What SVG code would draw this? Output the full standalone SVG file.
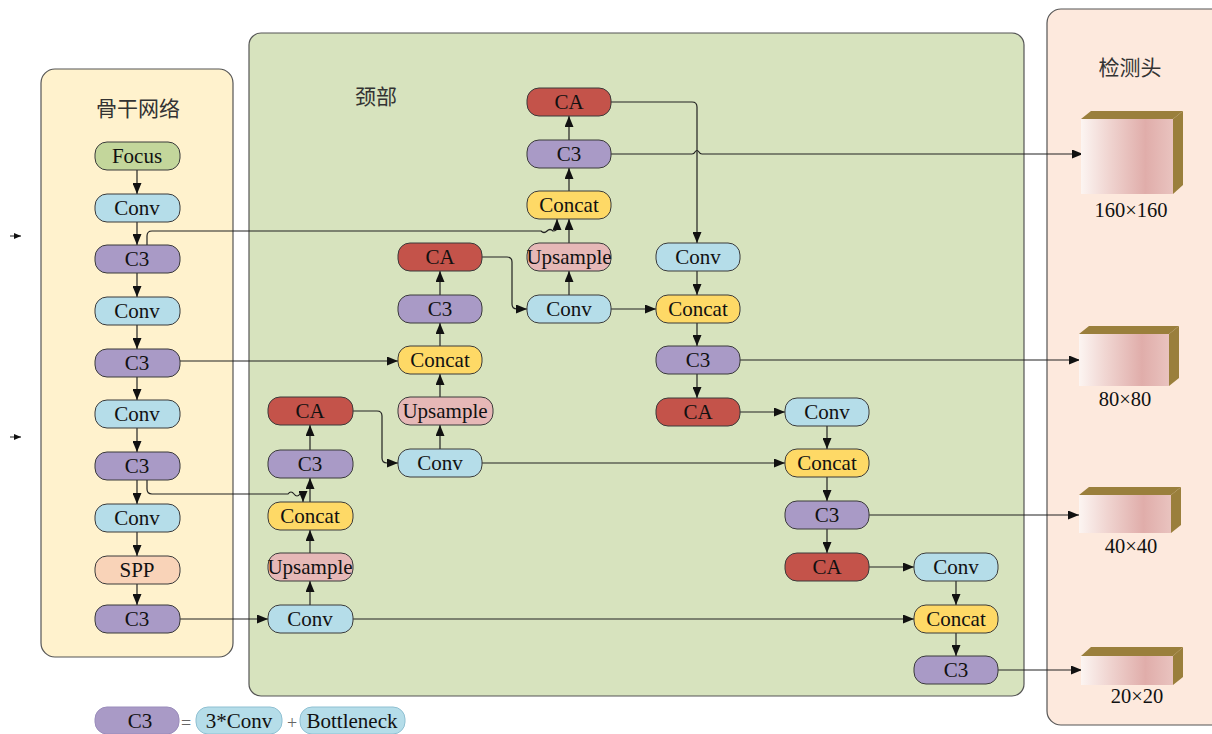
<svg xmlns="http://www.w3.org/2000/svg" width="1212" height="734" viewBox="0 0 1212 734">
<style>
.panel{stroke:#555;stroke-width:1.2}
.n{stroke:#3a3a3a;stroke-width:1}
.conv{fill:#b5dde9}.c3{fill:#a99ac6}.ca{fill:#c4534a}.cat{fill:#fed966}.up{fill:#e6b8b7}.focus{fill:#c3d69b}.spp{fill:#f9d3b8}
.t{font-family:"Liberation Serif","Times New Roman",serif;font-size:21px;fill:#111;text-anchor:middle}
.title{font-family:"Noto Sans CJK SC","Noto Sans CJK JP",sans-serif;font-size:21px;fill:#333;text-anchor:middle}
.lbl{font-family:"Liberation Serif","Times New Roman",serif;font-size:20.5px;fill:#111;text-anchor:middle}
.c{fill:none;stroke:#222;stroke-width:1.2;marker-end:url(#ah)}
.top{fill:#9a7f3c}
</style>
<defs>
<marker id="ah" markerUnits="userSpaceOnUse" markerWidth="11" markerHeight="9" refX="11" refY="4.5" orient="auto">
<path d="M0,0 L11,4.5 L0,9 z" fill="#111"/>
</marker>
<marker id="ahs" markerUnits="userSpaceOnUse" markerWidth="7" markerHeight="6" refX="7" refY="3" orient="auto">
<path d="M0,0 L7,3 L0,6 z" fill="#111"/>
</marker>
<linearGradient id="face" x1="0" y1="0" x2="1" y2="0">
<stop offset="0" stop-color="#fcf5f2"/>
<stop offset="0.3" stop-color="#f0d5d1"/>
<stop offset="0.7" stop-color="#e0adaa"/>
<stop offset="1" stop-color="#e9c3bf"/>
</linearGradient>
</defs>
<rect width="1212" height="734" fill="#ffffff"/>

<g id="panels">
<rect class="panel" x="41" y="69" width="192" height="588" rx="14" fill="#fff2cd"/>
<rect class="panel" x="249" y="33" width="775" height="663" rx="12" fill="#d7e3be"/>
<rect class="panel" x="1047" y="9" width="200" height="716" rx="14" fill="#fde9dd"/>
<text class="title" x="138" y="116">骨干网络</text>
<text class="title" x="376" y="104">颈部</text>
<text class="title" x="1130" y="75">检测头</text>
</g>

<g id="connectors">
<path d="M10,236 H21" style="fill:none;stroke:#222;stroke-width:1;marker-end:url(#ahs)"/>
<path d="M10,437 H21" style="fill:none;stroke:#222;stroke-width:1;marker-end:url(#ahs)"/>
<path class="c" d="M137,170 V194"/>
<path class="c" d="M137,222 V245"/>
<path class="c" d="M137,273 V297"/>
<path class="c" d="M137,325 V349"/>
<path class="c" d="M137,377 V400"/>
<path class="c" d="M137,428 V452"/>
<path class="c" d="M137,480 V504"/>
<path class="c" d="M137,532 V556"/>
<path class="c" d="M137,584 V605"/>
<path class="c" d="M147,245 V236 Q147,231 152,231 H541 q3,3 6,0 q3,-3 6,0 Q557,231 557,227 V219"/>
<path class="c" d="M147,480 V489 Q147,494 152,494 H288 q3,-4 6,0 q3,4 6,0 Q303,494 303,497 V502"/>
<path class="c" d="M180,361 H398"/>
<path class="c" d="M180,619 H268"/>
<path class="c" d="M310,605 V581"/>
<path class="c" d="M310,553 V530"/>
<path class="c" d="M310,502 V478"/>
<path class="c" d="M310,450 V425"/>
<path class="c" d="M353,411 H377 Q382,411 382,416 V458 Q382,463 387,463 H398"/>
<path class="c" d="M353,619 H914"/>
<path class="c" d="M440,449 V425"/>
<path class="c" d="M440,397 V374"/>
<path class="c" d="M440,346 V323"/>
<path class="c" d="M440,295 V271"/>
<path class="c" d="M482,257 H507 Q512,257 512,262 V304 Q512,309 517,309 H527"/>
<path class="c" d="M482,463 H785"/>
<path class="c" d="M569,295 V271"/>
<path class="c" d="M569,243 V219"/>
<path class="c" d="M569,191 V168"/>
<path class="c" d="M569,140 V116"/>
<path class="c" d="M611,309 H656"/>
<path class="c" d="M611,102 H692 Q697,102 697,107 V243"/>
<path class="c" d="M611,154 H692 q2,0 3,-2 q2,-3 4,0 q1,2 3,2 H1083"/>
<path class="c" d="M697,271 V295"/>
<path class="c" d="M697,323 V346"/>
<path class="c" d="M697,374 V398"/>
<path class="c" d="M740,360 H1080"/>
<path class="c" d="M740,412 H785"/>
<path class="c" d="M827,426 V449"/>
<path class="c" d="M827,477 V501"/>
<path class="c" d="M827,529 V553"/>
<path class="c" d="M869,515 H1079"/>
<path class="c" d="M869,567 H914"/>
<path class="c" d="M956,581 V605"/>
<path class="c" d="M956,633 V656"/>
<path class="c" d="M998,670 H1082"/>
</g>

<g id="bb_focus"><rect class="n focus" x="95" y="142" width="85" height="28" rx="12"/><text class="t" x="137" y="163">Focus</text></g>
<g id="bb_conv1"><rect class="n conv" x="95" y="194" width="85" height="28" rx="12"/><text class="t" x="137" y="215">Conv</text></g>
<g id="bb_c3_1"><rect class="n c3" x="95" y="245" width="85" height="28" rx="12"/><text class="t" x="137" y="266">C3</text></g>
<g id="bb_conv2"><rect class="n conv" x="95" y="297" width="85" height="28" rx="12"/><text class="t" x="137" y="318">Conv</text></g>
<g id="bb_c3_2"><rect class="n c3" x="95" y="349" width="85" height="28" rx="12"/><text class="t" x="137" y="370">C3</text></g>
<g id="bb_conv3"><rect class="n conv" x="95" y="400" width="85" height="28" rx="12"/><text class="t" x="137" y="421">Conv</text></g>
<g id="bb_c3_3"><rect class="n c3" x="95" y="452" width="85" height="28" rx="12"/><text class="t" x="137" y="473">C3</text></g>
<g id="bb_conv4"><rect class="n conv" x="95" y="504" width="85" height="28" rx="12"/><text class="t" x="137" y="525">Conv</text></g>
<g id="bb_spp"><rect class="n spp" x="95" y="556" width="85" height="28" rx="12"/><text class="t" x="137" y="577">SPP</text></g>
<g id="bb_c3_4"><rect class="n c3" x="95" y="605" width="85" height="28" rx="12"/><text class="t" x="137" y="626">C3</text></g>

<g id="n1_ca"><rect class="n ca" x="268" y="397" width="85" height="28" rx="12"/><text class="t" x="310" y="418">CA</text></g>
<g id="n1_c3"><rect class="n c3" x="268" y="450" width="85" height="28" rx="12"/><text class="t" x="310" y="471">C3</text></g>
<g id="n1_cat"><rect class="n cat" x="268" y="502" width="85" height="28" rx="12"/><text class="t" x="310" y="523">Concat</text></g>
<g id="n1_up"><rect class="n up" x="268" y="553" width="85" height="28" rx="12"/><text class="t" x="310" y="574">Upsample</text></g>
<g id="n1_conv"><rect class="n conv" x="268" y="605" width="85" height="28" rx="12"/><text class="t" x="310" y="626">Conv</text></g>

<g id="n2_ca"><rect class="n ca" x="398" y="243" width="84" height="28" rx="12"/><text class="t" x="440" y="264">CA</text></g>
<g id="n2_c3"><rect class="n c3" x="398" y="295" width="84" height="28" rx="12"/><text class="t" x="440" y="316">C3</text></g>
<g id="n2_cat"><rect class="n cat" x="398" y="346" width="84" height="28" rx="12"/><text class="t" x="440" y="367">Concat</text></g>
<g id="n2_up"><rect class="n up" x="398" y="397" width="95" height="28" rx="12"/><text class="t" x="445" y="418">Upsample</text></g>
<g id="n2_conv"><rect class="n conv" x="398" y="449" width="84" height="28" rx="12"/><text class="t" x="440" y="470">Conv</text></g>

<g id="n3_ca"><rect class="n ca" x="527" y="88" width="84" height="28" rx="12"/><text class="t" x="569" y="109">CA</text></g>
<g id="n3_c3"><rect class="n c3" x="527" y="140" width="84" height="28" rx="12"/><text class="t" x="569" y="161">C3</text></g>
<g id="n3_cat"><rect class="n cat" x="527" y="191" width="84" height="28" rx="12"/><text class="t" x="569" y="212">Concat</text></g>
<g id="n3_up"><rect class="n up" x="527" y="243" width="84" height="28" rx="12"/><text class="t" x="569" y="264">Upsample</text></g>
<g id="n3_conv"><rect class="n conv" x="527" y="295" width="84" height="28" rx="12"/><text class="t" x="569" y="316">Conv</text></g>

<g id="n4_conv"><rect class="n conv" x="656" y="243" width="84" height="28" rx="12"/><text class="t" x="698" y="264">Conv</text></g>
<g id="n4_cat"><rect class="n cat" x="656" y="295" width="84" height="28" rx="12"/><text class="t" x="698" y="316">Concat</text></g>
<g id="n4_c3"><rect class="n c3" x="656" y="346" width="84" height="28" rx="12"/><text class="t" x="698" y="367">C3</text></g>
<g id="n4_ca"><rect class="n ca" x="656" y="398" width="84" height="28" rx="12"/><text class="t" x="698" y="419">CA</text></g>

<g id="n5_conv"><rect class="n conv" x="785" y="398" width="84" height="28" rx="12"/><text class="t" x="827" y="419">Conv</text></g>
<g id="n5_cat"><rect class="n cat" x="785" y="449" width="84" height="28" rx="12"/><text class="t" x="827" y="470">Concat</text></g>
<g id="n5_c3"><rect class="n c3" x="785" y="501" width="84" height="28" rx="12"/><text class="t" x="827" y="522">C3</text></g>
<g id="n5_ca"><rect class="n ca" x="785" y="553" width="84" height="28" rx="12"/><text class="t" x="827" y="574">CA</text></g>

<g id="n6_conv"><rect class="n conv" x="914" y="553" width="84" height="28" rx="12"/><text class="t" x="956" y="574">Conv</text></g>
<g id="n6_cat"><rect class="n cat" x="914" y="605" width="84" height="28" rx="12"/><text class="t" x="956" y="626">Concat</text></g>
<g id="n6_c3"><rect class="n c3" x="914" y="656" width="84" height="28" rx="12"/><text class="t" x="956" y="677">C3</text></g>

<g id="head_160">
<polygon class="top" points="1081,119 1091,111 1183,111 1173,119"/>
<polygon class="top" points="1173,119 1183,111 1183,185 1173,194"/>
<rect x="1081" y="119" width="92" height="75" fill="url(#face)"/>
<text class="lbl" x="1131" y="217">160×160</text>
</g>
<g id="head_80">
<polygon class="top" points="1079,334 1089,326 1179,326 1169,334"/>
<polygon class="top" points="1169,334 1179,326 1179,378 1169,386"/>
<rect x="1079" y="334" width="90" height="52" fill="url(#face)"/>
<text class="lbl" x="1125" y="406">80×80</text>
</g>
<g id="head_40">
<polygon class="top" points="1079,495 1089,487 1181,487 1171,495"/>
<polygon class="top" points="1171,495 1181,487 1181,525 1171,533"/>
<rect x="1079" y="495" width="92" height="38" fill="url(#face)"/>
<text class="lbl" x="1131" y="553">40×40</text>
</g>
<g id="head_20">
<polygon class="top" points="1081,656 1091,647 1183,647 1173,656"/>
<polygon class="top" points="1173,656 1183,647 1183,677 1173,685"/>
<rect x="1081" y="656" width="92" height="29" fill="url(#face)"/>
<text class="lbl" x="1137" y="703">20×20</text>
</g>

<g id="legend">
<rect x="95" y="707" width="84" height="27" rx="12" fill="#a99ac6" stroke="#9a8cbb"/>
<text class="t" x="140" y="728">C3</text>
<text x="186" y="729" style="font-family:'Liberation Serif',serif;font-size:18px;fill:#666;text-anchor:middle">=</text>
<rect x="196" y="707" width="86" height="27" rx="12" fill="#b5dde9" stroke="#8fc0d2"/>
<text class="t" x="239" y="728">3*Conv</text>
<text x="292" y="729" style="font-family:'Liberation Serif',serif;font-size:18px;fill:#666;text-anchor:middle">+</text>
<rect x="300" y="707" width="105" height="27" rx="12" fill="#b5dde9" stroke="#8fc0d2"/>
<text class="t" x="352" y="728">Bottleneck</text>
</g>
</svg>
